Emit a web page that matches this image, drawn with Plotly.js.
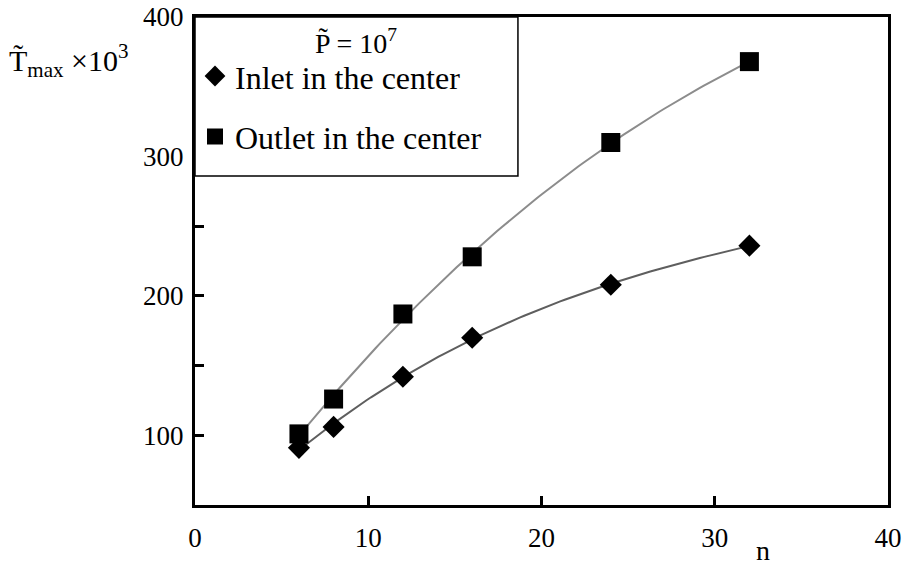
<!DOCTYPE html>
<html>
<head>
<meta charset="utf-8">
<script src="https://cdn.plot.ly/plotly-3.0.1.min.js"></script>
<style>
  html, body { margin: 0; padding: 0; background: #fff; }
  #chart { width: 909px; height: 571px; }
</style>
</head>
<body>
<div id="chart"></div>
<script>
// Number of channels n
const nValues = [6, 8, 12, 16, 24, 32];
// Maximum temperature (x10^3) for each arrangement
const inletCenter = [91, 106, 142, 170, 208, 236];
const outletCenter = [101, 126, 187, 228, 310, 368];

const inletName = 'Inlet in the center';
const outletName = 'Outlet in the center';

// Y ticks every 50, labelled every 100
const yTickVals = [50, 100, 150, 200, 250, 300, 350, 400];
const yTickText = ['', '100', '', '200', '', '300', '', '400'];
const xTickVals = [0, 10, 20, 30, 40];

// Least-squares cubic trend line through the measured points
function polyFit(xs, ys, deg) {
  const m = deg + 1;
  const A = [];
  for (let i = 0; i < m; i++) {
    A.push(new Array(m + 1).fill(0));
  }
  for (let k = 0; k < xs.length; k++) {
    for (let i = 0; i < m; i++) {
      for (let j = 0; j < m; j++) A[i][j] += Math.pow(xs[k], i + j);
      A[i][m] += ys[k] * Math.pow(xs[k], i);
    }
  }
  for (let i = 0; i < m; i++) {
    let p = i;
    for (let r = i + 1; r < m; r++) if (Math.abs(A[r][i]) > Math.abs(A[p][i])) p = r;
    [A[i], A[p]] = [A[p], A[i]];
    for (let r = 0; r < m; r++) {
      if (r === i) continue;
      const f = A[r][i] / A[i][i];
      for (let c = i; c <= m; c++) A[r][c] -= f * A[i][c];
    }
  }
  return A.map((row, i) => row[m] / row[i]);
}

function trendLine(xs, ys, deg) {
  const c = polyFit(xs, ys, deg);
  const x0 = Math.min(...xs), x1 = Math.max(...xs);
  const tx = [], ty = [];
  for (let i = 0; i <= 100; i++) {
    const x = x0 + (x1 - x0) * i / 100;
    tx.push(x);
    ty.push(c.reduce((s, a, p) => s + a * Math.pow(x, p), 0));
  }
  return {x: tx, y: ty};
}

const inletFit = trendLine(nValues, inletCenter, 3);
const outletFit = trendLine(nValues, outletCenter, 3);

const serif = 'Liberation Serif';

const traces = [
  {
    x: outletFit.x, y: outletFit.y, mode: 'lines', showlegend: false, hoverinfo: 'skip',
    line: {color: '#8c8c8c', width: 2}
  },
  {
    x: inletFit.x, y: inletFit.y, mode: 'lines', showlegend: false, hoverinfo: 'skip',
    line: {color: '#5e5e5e', width: 2}
  },
  {
    x: nValues, y: inletCenter, mode: 'markers', name: inletName, legendgroup: 'a',
    marker: {symbol: 'diamond', size: 17, color: '#000'}
  },
  {
    x: nValues, y: outletCenter, mode: 'markers', name: outletName, legendgroup: 'b',
    marker: {symbol: 'square', size: 19, color: '#000'}
  }
];

const layout = {
  width: 909,
  height: 571,
  margin: {l: 195, r: 21, t: 17, b: 66},
  paper_bgcolor: '#fff',
  plot_bgcolor: '#fff',
  font: {family: serif, color: '#000', size: 27},
  xaxis: {
    range: [0, 40],
    tickvals: xTickVals,
    ticks: 'inside', ticklen: 9, tickwidth: 3, tickcolor: '#000',
    showline: true, linewidth: 3, linecolor: '#000', mirror: true,
    showgrid: false, zeroline: false,
    ticklabelstandoff: 7,
    tickfont: {family: serif, size: 27, color: '#000'}
  },
  yaxis: {
    range: [50, 400],
    tickvals: yTickVals, ticktext: yTickText,
    ticks: 'inside', ticklen: 9, tickwidth: 3, tickcolor: '#000',
    showline: true, linewidth: 3, linecolor: '#000', mirror: true,
    showgrid: false, zeroline: false,
    ticklabelstandoff: 3,
    tickfont: {family: serif, size: 27, color: '#000'}
  },
  showlegend: true,
  legend: {
    x: 0.0, y: 0.935, xanchor: 'left', yanchor: 'top',
    bgcolor: 'rgba(0,0,0,0)', borderwidth: 0,
    font: {family: serif, size: 32, color: '#000'},
    tracegroupgap: 16,
    itemsizing: 'trace'
  },
  shapes: [
    {
      type: 'rect', xref: 'paper', yref: 'paper',
      x0: 0, x1: 0.466, y0: 0.674, y1: 1,
      fillcolor: '#fff', line: {color: '#000', width: 1.5}, layer: 'above'
    }
  ],
  annotations: [
    {
      xref: 'paper', yref: 'paper', x: 0.233, y: 0.99, xanchor: 'center', yanchor: 'top',
      text: 'P\u0303 = 10<sup>7</sup>', showarrow: false,
      font: {family: serif, size: 28, color: '#000'}
    },
    {
      xref: 'paper', yref: 'paper', x: -0.272, y: 0.96, xanchor: 'left', yanchor: 'top',
      text: 'T\u0303<sub>max</sub> \u00d710<sup>3</sup>', showarrow: false,
      font: {family: serif, size: 30, color: '#000'}
    },
    {
      xref: 'paper', yref: 'paper', x: 0.82, y: -0.13, xanchor: 'center', yanchor: 'bottom',
      text: 'n', showarrow: false,
      font: {family: serif, size: 28, color: '#000'}
    }
  ]
};

Plotly.newPlot('chart', traces, layout, {displayModeBar: false, staticPlot: true});
</script>
</body>
</html>
